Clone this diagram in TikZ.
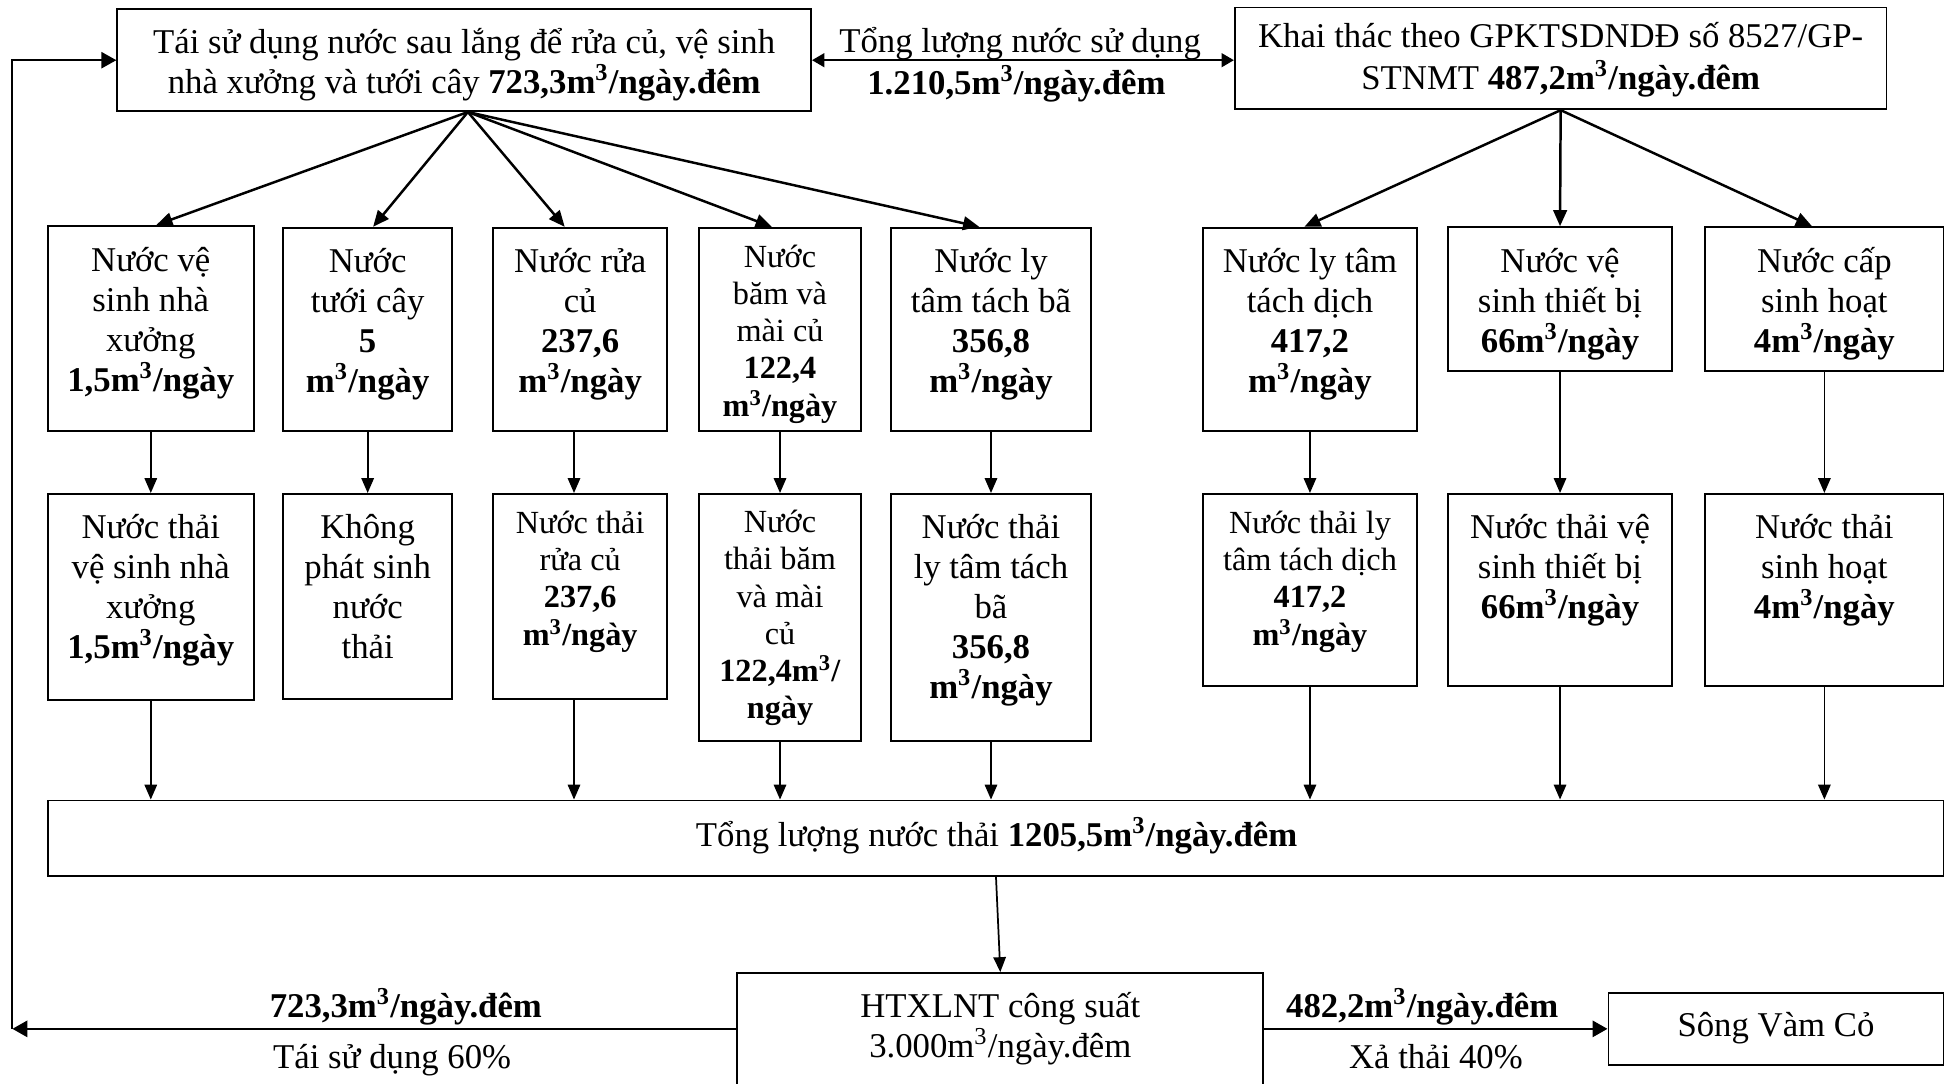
\documentclass[tikz,border=0pt]{standalone}
\usepackage{fontspec}
\setmainfont{Liberation Serif}
\usetikzlibrary{arrows.meta,calc,fit}

% text sizes used in the boxes
\newcommand\nsz{\fontsize{14pt}{16.1pt}\selectfont}
\newcommand\ssz{\fontsize{13pt}{15pt}\selectfont}
% cubic metre
\newcommand\mcube{m\textsuperscript{3}}
% centred block of lines whose baseline is the first line
\newcommand\stk[1]{\parbox[t]{300pt}{\centering #1}}

\begin{document}
\begin{tikzpicture}[x=0.5pt, y=-0.5pt,
  box/.style={draw, line width=0.75pt, inner sep=0pt},
  lbl/.style={inner sep=0pt, anchor=base, font=\nsz},
  slbl/.style={lbl, font=\ssz},
  varrow/.style={line width=0.7pt, -{Triangle[length=6pt,width=5pt]}},
  darrow/.style={line width=1pt, -{Triangle[length=6.5pt,width=5.5pt]}},
  harrow/.style={line width=1pt, -{Triangle[length=6pt,width=6.5pt]}},
  both/.style={line width=1pt, {Triangle[length=5pt,width=5.5pt]}-{Triangle[length=5pt,width=5.5pt]}},
]
\useasboundingbox (0,0) rectangle (1568,873);
\clip (0,0) rectangle (1568,873);

% ---------- sources ----------
\node[box, fit={(94.5,7.5)(653.5,89.5)}] (tl) {};
\node[lbl] (tlt) at ($(tl.north)+(0,36)$)
  {\stk{Tái sử dụng nước sau lắng để rửa củ, vệ sinh\\
        nhà xưởng và tưới cây \textbf{723,3\mcube/ngày.đêm}}};

\node[box, fit={(995,6)(1520,88)}] (tr) {};
\node[lbl, font=\fontsize{14pt}{17pt}\selectfont] (trt) at ($(tr.north)+(0,33)$)
  {\stk{Khai thác theo GPKTSDNDĐ số 8527/GP-\\
        STNMT \textbf{487,2\mcube/ngày.đêm}}};

\draw[both] (tl.east) -- (tl.east -| tr.west);
\node[lbl] (use1) at (822,42) {Tổng lượng nước sử dụng};
\node[lbl] (use2) at (819,76) {\textbf{1.210,5\mcube/ngày.đêm}};

% ---------- water uses ----------
\node[box, fit={(38.5,182)(204.5,347)}]   (b1) {};
\node[box, fit={(228,183.5)(364.5,347)}]  (b2) {};
\node[box, fit={(397.5,183.5)(537.5,347)}] (b3) {};
\node[box, fit={(563,183.5)(694,347)}]    (b4) {};
\node[box, fit={(718,183.5)(879,347)}]    (b5) {};
\node[box, fit={(969,183.5)(1142,347)}]   (b6) {};
\node[box, fit={(1167,183)(1347,299)}]    (b7) {};
\node[box, fit={(1374,183)(1566,299)}]    (b8) {};

\node[lbl]  (b1t) at ($(b1.north)+(0,37.5)$) {\stk{Nước vệ\\ sinh nhà\\ xưởng\\ \textbf{1,5\mcube/ngày}}};
\node[lbl]  (b2t) at ($(b2.north)+(0,37)$) {\stk{Nước\\ tưới cây\\ \textbf{5}\\ \textbf{\mcube/ngày}}};
\node[lbl]  (b3t) at ($(b3.north)+(0,37)$) {\stk{Nước rửa\\ củ\\ \textbf{237,6}\\ \textbf{\mcube/ngày}}};
\node[slbl] (b4t) at ($(b4.north)+(0,32.5)$) {\stk{Nước\\ băm và\\ mài củ\\ \textbf{122,4}\\ \textbf{\mcube/ngày}}};
\node[lbl]  (b5t) at ($(b5.north)+(0,37)$) {\stk{Nước ly\\ tâm tách bã\\ \textbf{356,8}\\ \textbf{\mcube/ngày}}};
\node[lbl]  (b6t) at ($(b6.north)+(0,37)$) {\stk{Nước ly tâm\\ tách dịch\\ \textbf{417,2}\\ \textbf{\mcube/ngày}}};
\node[lbl]  (b7t) at ($(b7.north)+(0,37)$) {\stk{Nước vệ\\ sinh thiết bị\\ \textbf{66\mcube/ngày}}};
\node[lbl]  (b8t) at ($(b8.north)+(0,37)$) {\stk{Nước cấp\\ sinh hoạt\\ \textbf{4\mcube/ngày}}};

% ---------- wastewater ----------
\node[box, fit={(38.5,398)(204.5,564)}]   (c1) {};
\node[box, fit={(228,398)(364.5,563)}]    (c2) {};
\node[box, fit={(397.5,398)(537.5,563)}]  (c3) {};
\node[box, fit={(563,398)(694,597)}]      (c4) {};
\node[box, fit={(718,398)(879,597)}]      (c5) {};
\node[box, fit={(969,398)(1142,552.5)}]   (c6) {};
\node[box, fit={(1167,398)(1347,552.5)}]  (c7) {};
\node[box, fit={(1374,398)(1566,552.5)}]  (c8) {};

\node[lbl]  (c1t) at ($(c1.north)+(0,37)$) {\stk{Nước thải\\ vệ sinh nhà\\ xưởng\\ \textbf{1,5\mcube/ngày}}};
\node[lbl]  (c2t) at ($(c2.north)+(0,37)$) {\stk{Không\\ phát sinh\\ nước\\ thải}};
\node[slbl] (c3t) at ($(c3.north)+(0,32.5)$) {\stk{Nước thải\\ rửa củ\\ \textbf{237,6}\\ \textbf{\mcube/ngày}}};
\node[slbl] (c4t) at ($(c4.north)+(0,32)$)   {\stk{Nước\\ thải băm\\ và mài\\ củ\\ \textbf{122,4\mcube/}\\ \textbf{ngày}}};
\node[lbl]  (c5t) at ($(c5.north)+(0,36.5)$) {\stk{Nước thải\\ ly tâm tách\\ bã\\ \textbf{356,8}\\ \textbf{\mcube/ngày}}};
\node[slbl] (c6t) at ($(c6.north)+(0,32.5)$) {\stk{Nước thải ly\\ tâm tách dịch\\ \textbf{417,2}\\ \textbf{\mcube/ngày}}};
\node[lbl]  (c7t) at ($(c7.north)+(0,36.5)$) {\stk{Nước thải vệ\\ sinh thiết bị\\ \textbf{66\mcube/ngày}}};
\node[lbl]  (c8t) at ($(c8.north)+(0,36.5)$) {\stk{Nước thải\\ sinh hoạt\\ \textbf{4\mcube/ngày}}};

% ---------- totals and treatment ----------
\node[box, fit={(39,645)(1566,705.5)}] (big) {};
\node[lbl] (bigt) at (803,682) {Tổng lượng nước thải \textbf{1205,5\mcube/ngày.đêm}};

\node[box, fit={(594,784)(1018,905)}] (htx) {};
\node[lbl] (htxt) at (806,819.5) {\stk{HTXLNT công suất\\ 3.000\mcube/ngày.đêm}};

\node[box, fit={(1296,800)(1566,858)}] (svc) {};
\node[lbl] (svct) at (1431,835) {Sông Vàm Cỏ};

\node[lbl] (ru1) at (327,820)  {\textbf{723,3\mcube/ngày.đêm}};
\node[lbl] (ru2) at (316,861)  {Tái sử dụng 60\%};
\node[lbl] (ds1) at (1146,820) {\textbf{482,2\mcube/ngày.đêm}};
\node[lbl] (ds2) at (1157,861) {Xả thải 40\%};

% ---------- connectors ----------
\coordinate (tlo) at ($(tl.south)+(3,0)$);
\draw[darrow] (tlo) -- ([xshift=2.25pt]b1.north);
\draw[darrow] (tlo) -- ([xshift=2.2pt]b2.north);
\draw[darrow] (tlo) -- ([xshift=-6.25pt]b3.north);
\draw[darrow] (tlo) -- ([xshift=-3.35pt]b4.north);
\draw[darrow] (tlo) -- ([xshift=-4.75pt]b5.north);

\draw[darrow] (tr.south) -- ([xshift=-2.25pt]b6.north);
\draw[darrow] (tr.south) -- (b7.north);
\draw[darrow] (tr.south) -- ([xshift=-5pt]b8.north);

\foreach \k in {1,2,4,5,6,7,8}
  \draw[varrow] (b\k.south) -- (c\k.north);
\draw[varrow] ([xshift=-2.5pt]b3.south) -- ([xshift=-2.5pt]c3.north);

\foreach \k in {1,4,5,6,7,8}
  \draw[varrow] (c\k.south) -- (c\k.south |- big.north);
\draw[varrow] ([xshift=-2.5pt]c3.south) -- ([xshift=-2.5pt]c3.south |- big.north);

\draw[varrow] (big.south) -- (htx.north);

\coordinate (fb) at (10,829);
\draw[harrow] (htx.west |- fb) -- (fb);
\draw[line width=0.75pt, -{Triangle[length=6pt,width=6.5pt]}] (fb) |- (tl.west);
\draw[harrow] (htx.east |- svc.west) -- (svc.west);
\end{tikzpicture}
\end{document}
